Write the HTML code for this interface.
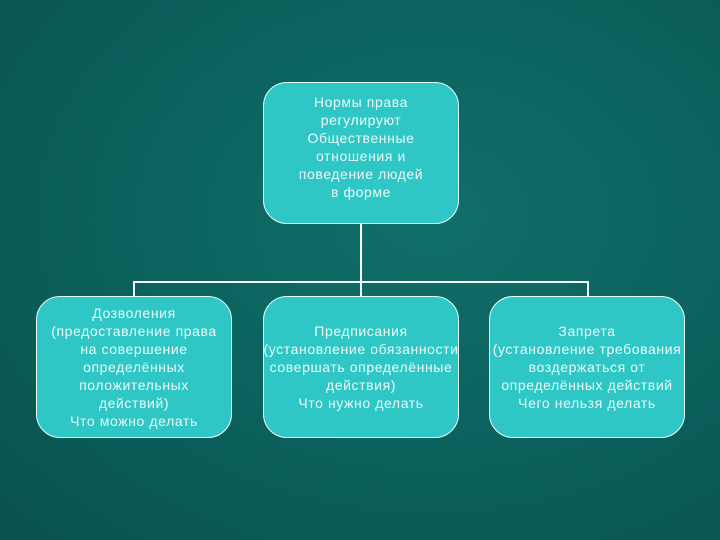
<!DOCTYPE html>
<html><head><meta charset="utf-8"><style>
body{margin:0;width:720px;height:540px;overflow:hidden;background:radial-gradient(ellipse at 60% 40%,#116f6b 0%,#0b615d 50%,#09524f 100%);font-family:"Liberation Sans",sans-serif;position:relative}
.b{position:absolute;box-sizing:border-box;background:#2fc6c6;border:1.5px solid #e8ffff;border-radius:24px;color:#eafafa;font-size:14px;letter-spacing:0.6px;line-height:18px;text-align:center;display:flex;align-items:center;justify-content:center;white-space:nowrap}
.l{position:absolute;background:#f4ffff}
</style></head><body>
<div class="l" style="left:360px;top:224px;width:2px;height:72px"></div>
<div class="l" style="left:133px;top:281px;width:456px;height:2px"></div>
<div class="l" style="left:133px;top:281px;width:2px;height:16px"></div>
<div class="l" style="left:587px;top:281px;width:2px;height:16px"></div>
<div class="b" style="left:263px;top:82px;width:196px;height:142px;align-items:flex-start;padding-top:10px">Нормы права<br>регулируют<br>Общественные<br>отношения и<br>поведение людей<br>в форме</div>
<div class="b" style="left:36px;top:296px;width:196px;height:142px">Дозволения<br>(предоставление права<br>на совершение<br>определённых<br>положительных<br>действий)<br>Что можно делать</div>
<div class="b" style="left:263px;top:296px;width:196px;height:142px">Предписания<br>(установление обязанности<br>совершать определённые<br>действия)<br>Что нужно делать</div>
<div class="b" style="left:489px;top:296px;width:196px;height:142px">Запрета<br>(установление требования<br>воздержаться от<br>определённых действий<br>Чего нельзя делать</div>
</body></html>
